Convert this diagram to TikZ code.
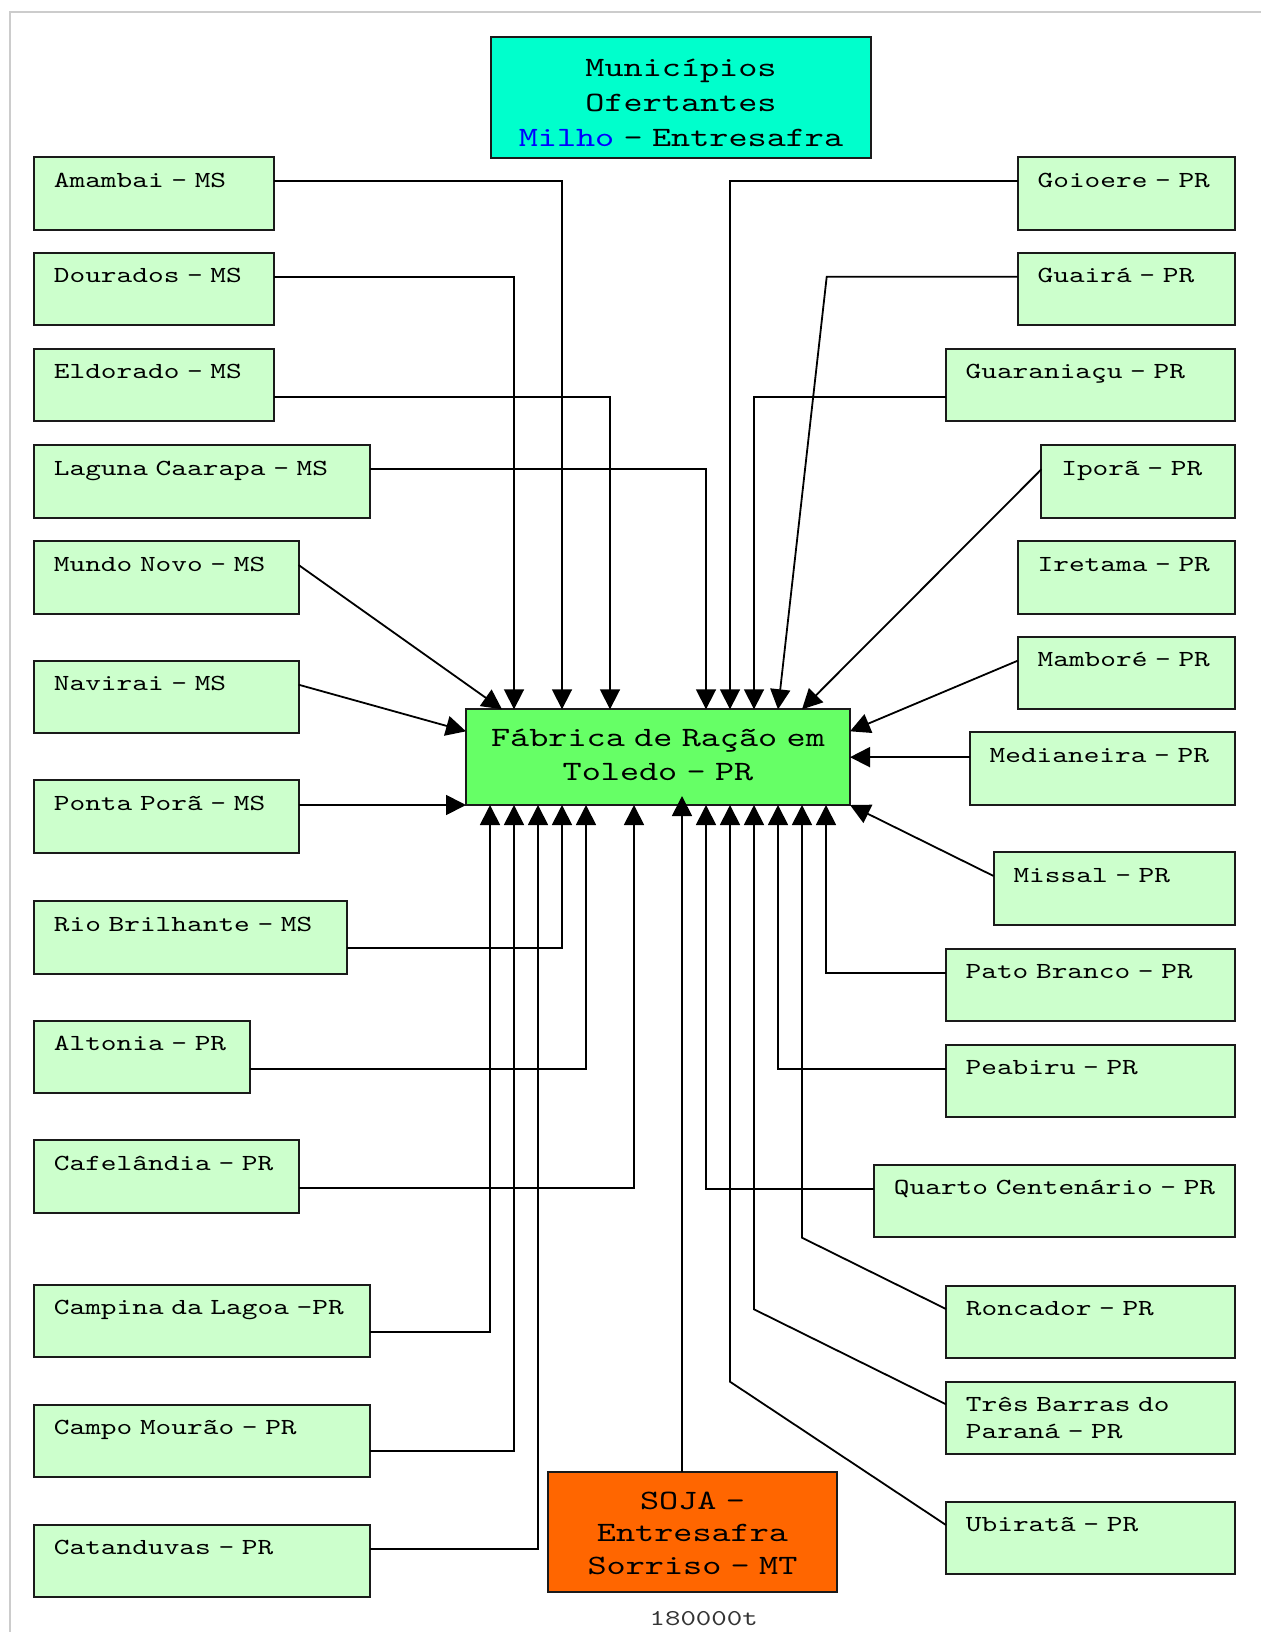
\documentclass[tikz,border=0pt]{standalone}
\usepackage{fontspec}
\newfontfamily\typefont{lmmono10-regular.otf}[FakeStretch=1.30, WordSpace=1.30]
\usetikzlibrary{arrows.meta}

\definecolor{munifill}{HTML}{CCFFCC}
\definecolor{fabfill}{HTML}{66FF66}
\definecolor{titlefill}{HTML}{00FFCC}
\definecolor{sojafill}{HTML}{FF6600}
\definecolor{milho}{HTML}{0000FF}
\definecolor{framegray}{HTML}{CCCCCC}
\definecolor{edgeblack}{HTML}{1A1A1A}

\tikzset{
  boxbase/.style={draw=edgeblack, line width=1pt, inner sep=0pt, outer sep=0pt},
  munibox/.style={boxbase, fill=munifill, minimum height=36.25pt},
  munitext/.style={anchor=base west, inner sep=0pt, text width=180pt, align=left,
    font=\typefont\fontsize{11.5pt}{13.35pt}\selectfont},
  bigtext/.style={anchor=base, inner sep=0pt, align=center},
  conn/.style={draw=black, line width=0.9pt, -{Triangle[length=10pt,width=10pt]}},
}

% municipality box: name, left x, top y, right x, label (pixel units)
\newcommand\muni[5]{%
  \node[munibox, minimum width={(#4-#2)*0.5pt}] (#1) at ({(#2+#4)/2},{#3+36.25}) {};
  \node[munitext] (#1-t) at ({#2+19.5},{#3+30}) {#5};}

\begin{document}
\begin{tikzpicture}[x=0.5pt, y=-0.5pt]
\useasboundingbox (0,0) rectangle (1261,1632);

% page frame
\draw[framegray, line width=1pt] (10,1632) -- (10,12) -- (1261,12);

% header
\node[boxbase, fill=titlefill, minimum width=190.3pt, minimum height=60.35pt] (title) at (681,97.35) {};
\node[bigtext, text width=190pt, font=\typefont\fontsize{14pt}{17.5pt}\selectfont] (title-t) at (681,76.5)
  {Municípios\\Ofertantes\\{\color{milho}Milho} - Entresafra};

% factory
\node[boxbase, fill=fabfill, minimum width=192pt, minimum height=47.85pt] (fab) at (658,757.15) {};
\node[bigtext, text width=192pt, font=\typefont\fontsize{14pt}{17pt}\selectfont] (fab-t) at (658,746.5)
  {Fábrica de Ração em\\Toledo - PR};

% soy supplier
\node[boxbase, fill=sojafill, minimum width=144.2pt, minimum height=60.3pt] (soja) at (692.5,1532) {};
\node[bigtext, text width=144pt, font=\typefont\fontsize{14pt}{16.35pt}\selectfont] (soja-t) at (692.5,1509)
  {SOJA -\\Entresafra\\Sorriso - MT};
\node[anchor=base, inner sep=0pt, text=black!80, font=\typefont\fontsize{11.3pt}{13pt}\selectfont] (qty) at (703.7,1625.7) {180000t};

% left column
\muni{amb}{34}{157}{274.3}{Amambai - MS}
\muni{dou}{34}{252.8}{274.3}{Dourados - MS}
\muni{eld}{34}{348.8}{274.3}{Eldorado - MS}
\muni{lag}{34}{445.3}{370}{Laguna Caarapa - MS}
\muni{mun}{34}{541}{298.6}{Mundo Novo - MS}
\muni{nav}{34}{660.7}{298.6}{Navirai - MS}
\muni{pon}{34}{780.3}{298.6}{Ponta Porã - MS}
\muni{rio}{34}{901}{346.5}{Rio Brilhante - MS}
\muni{alt}{34}{1020.6}{249.7}{Altonia - PR}
\muni{caf}{34}{1140.3}{298.6}{Cafelândia - PR}
\muni{cpl}{34}{1284.9}{370}{Campina da Lagoa -PR}
\muni{cmo}{34}{1404.5}{370}{Campo Mourão - PR}
\muni{cat}{34}{1524.6}{370}{Catanduvas - PR}

% right column
\muni{goi}{1017.7}{157}{1235.3}{Goioere - PR}
\muni{gua}{1017.7}{252.8}{1235.3}{Guairá - PR}
\muni{grn}{945.7}{348.8}{1235.3}{Guaraniaçu - PR}
\muni{ipo}{1041.4}{445.3}{1235.3}{Iporã - PR}
\muni{ire}{1017.7}{541}{1235.3}{Iretama - PR}
\muni{mam}{1017.7}{636.7}{1235.3}{Mamboré - PR}
\muni{med}{969.7}{732.4}{1235.3}{Medianeira - PR}
\muni{mis}{993.6}{852}{1235.3}{Missal - PR}
\muni{pat}{945.7}{948.8}{1235.3}{Pato Branco - PR}
\muni{pea}{945.7}{1044.6}{1235.3}{Peabiru - PR}
\muni{qua}{874}{1164.6}{1235.3}{Quarto Centenário - PR}
\muni{ron}{946}{1285.7}{1235.3}{Roncador - PR}
\muni{tbr}{946}{1381.7}{1235.3}{Três Barras do\\Paraná - PR}
\muni{ubi}{946}{1501.7}{1235.3}{Ubiratã - PR}

% ports on the factory box, 24px apart
\foreach \k in {1,...,15} {
  \coordinate (t\k) at ([xshift=12pt*\k]fab.north west);
  \coordinate (b\k) at ([xshift=12pt*\k]fab.south west);
}
\coordinate (tm) at ([xshift=18pt]fab.north west);
\coordinate (lw) at ([yshift=-11pt]fab.north west);
\coordinate (rt) at ([yshift=-11pt]fab.north east);

% connectors from the left
\draw[conn] ([yshift=-12pt]amb.north east) -| (t4);
\draw[conn] ([yshift=-12pt]dou.north east) -| (t2);
\draw[conn] ([yshift=-24pt]eld.north east) -| (t6);
\draw[conn] ([yshift=-12pt]lag.north east) -| (t10);
\draw[conn] ([yshift=-12pt]mun.north east) -- (tm);
\draw[conn] ([yshift=-12pt]nav.north east) -- (lw);
\draw[conn] (fab.south west -| pon.east) -- (fab.south west);
\draw[conn] ([yshift=-23.5pt]rio.north east) -| (b4);
\draw[conn] ([yshift=-24pt]alt.north east) -| (b5);
\draw[conn] ([yshift=-24pt]caf.north east) -| (b7);
\draw[conn] ([yshift=-23.5pt]cpl.north east) -| (b1);
\draw[conn] ([yshift=-23.25pt]cmo.north east) -| (b2);
\draw[conn] ([yshift=-12pt]cat.north east) -| (b3);

% connectors from the right
\draw[conn] ([yshift=-12pt]goi.north west) -| (t11);
\draw[conn] ([yshift=-12pt]gua.north west) -- ++(-95.5pt,0) -- (t13);
\draw[conn] ([yshift=-24pt]grn.north west) -| (t12);
\draw[conn] ([yshift=-12pt]ipo.north west) -- (t14);
\draw[conn] ([yshift=-12pt]mam.north west) -- (rt);
\draw[conn] (fab.east -| med.west) -- (fab.east);
\draw[conn] ([yshift=-12pt]mis.north west) -- (fab.south east);
\draw[conn] ([yshift=-12pt]pat.north west) -| (b15);
\draw[conn] ([yshift=-12pt]pea.north west) -| (b13);
\draw[conn] ([yshift=-12pt]qua.north west) -| (b10);
\draw[conn] ([yshift=-11.65pt]ron.north west) -- (802,1237.7) -- (b14);
\draw[conn] ([yshift=-11.3pt]tbr.north west) -- (754,1309.3) -- (b12);
\draw[conn] ([yshift=-11.65pt]ubi.north west) -- (730,1381.7) -- (b11);

% soy link
\draw[conn] (b9 |- soja.north) -- ([yshift=4.5pt]b9);
\end{tikzpicture}
\end{document}
